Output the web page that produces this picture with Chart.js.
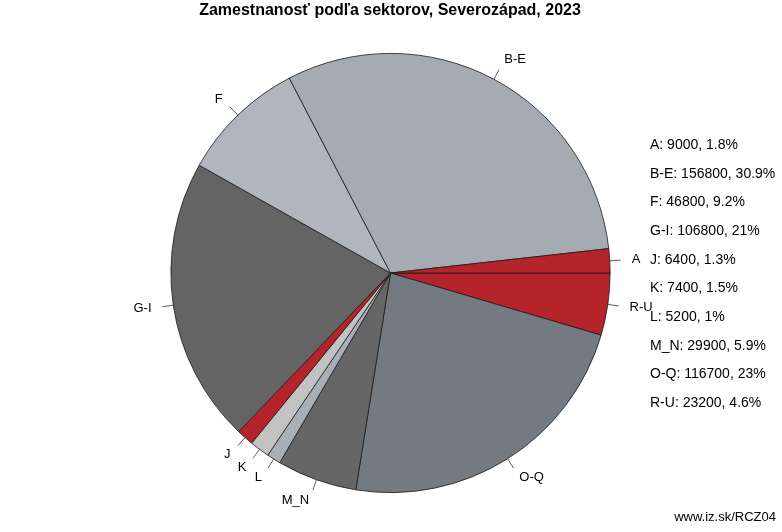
<!DOCTYPE html>
<html>
<head>
<meta charset="utf-8">
<script src="https://cdn.jsdelivr.net/npm/chart.js@4/dist/chart.umd.min.js"></script>
<style>
html,body{margin:0;padding:0;background:#fff;}
#wrap{position:relative;width:782px;height:532px;}
</style>
</head>
<body>
<div id="wrap"><canvas id="c" width="782" height="532"></canvas></div>
<script>
const titleText = "Zamestnanosť podľa sektorov, Severozápad, 2023";
const sourceText = "www.iz.sk/RCZ04";
const categories = ["A", "B-E", "F", "G-I", "J", "K", "L", "M_N", "O-Q", "R-U"];
const values = [9000, 156800, 46800, 106800, 6400, 7400, 5200, 29900, 116700, 23200];
const percents = ["1.8%", "30.9%", "9.2%", "21%", "1.3%", "1.5%", "1%", "5.9%", "23%", "4.6%"];
const colors = ["#b5232b", "#a5abb3", "#b1b6be", "#646464", "#b5232b", "#c2c2c2", "#a8afb7", "#666666", "#737a82", "#b5232b"];

// R's pie draws counterclockwise from 3 o'clock; Chart.js draws clockwise, so reverse.
const revLabels = categories.slice().reverse();
const revValues = values.slice().reverse();
const revColors = colors.slice().reverse();

const FONT = '"Liberation Sans", Arial, Helvetica, sans-serif';

const decorPlugin = {
  id: 'decor',
  afterDraw(chart) {
    const ctx = chart.ctx;
    ctx.save();
    // title
    ctx.fillStyle = '#000';
    ctx.font = 'bold 16px ' + FONT;
    ctx.textAlign = 'center';
    ctx.textBaseline = 'middle';
    ctx.fillText(titleText, 390, 11);
    // slice labels
    const meta = chart.getDatasetMeta(0);
    ctx.font = '13px ' + FONT;
    ctx.strokeStyle = '#333';
    ctx.lineWidth = 0.8;
    meta.data.forEach((arc, i) => {
      const p = arc.getProps(['x', 'y', 'startAngle', 'endAngle', 'outerRadius'], true);
      const mid = (p.startAngle + p.endAngle) / 2;
      const r = p.outerRadius;
      const c = Math.cos(mid), s = Math.sin(mid);
      ctx.beginPath();
      ctx.moveTo(p.x + r * c, p.y + r * s);
      ctx.lineTo(p.x + 1.05 * r * c, p.y + 1.05 * r * s);
      ctx.stroke();
      ctx.textAlign = c >= 0 ? 'left' : 'right';
      ctx.textBaseline = 'middle';
      ctx.fillText(revLabels[i], p.x + 1.1 * r * c, p.y + 1.1 * r * s);
    });
    // legend text
    ctx.font = '14px ' + FONT;
    ctx.textAlign = 'left';
    ctx.textBaseline = 'middle';
    categories.forEach((cat, i) => {
      ctx.fillText(cat + ': ' + values[i] + ', ' + percents[i], 650, 145 + i * 28.7);
    });
    // source
    ctx.font = '13px ' + FONT;
    ctx.textAlign = 'right';
    ctx.fillText(sourceText, 776, 517);
    ctx.restore();
  }
};

new Chart(document.getElementById('c'), {
  type: 'pie',
  data: {
    labels: revLabels,
    datasets: [{
      data: revValues,
      backgroundColor: revColors,
      borderColor: '#1a1a1a',
      borderWidth: 0.8
    }]
  },
  options: {
    responsive: false,
    animation: false,
    rotation: 90,
    layout: { padding: { top: 53, bottom: 39, left: 170.5, right: 171.5 } },
    plugins: {
      legend: { display: false },
      title: { display: false },
      tooltip: { enabled: false }
    }
  },
  plugins: [decorPlugin]
});
</script>
</body>
</html>
